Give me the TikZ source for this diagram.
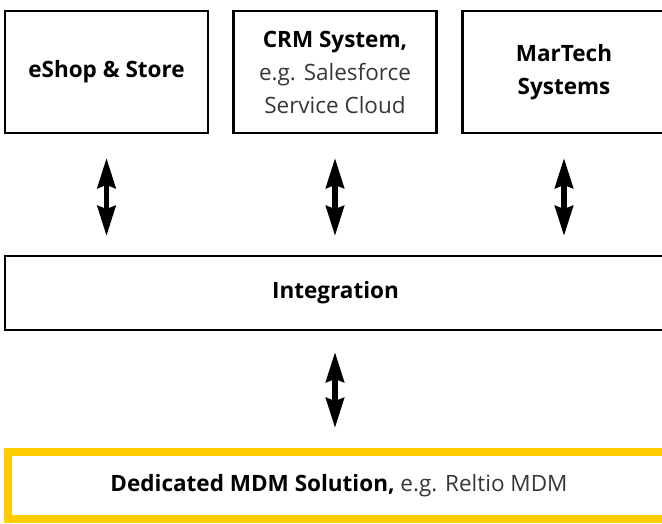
\documentclass[tikz,border=0pt]{standalone}
\usepackage{fontspec}
\setmainfont{Open Sans}
\usetikzlibrary{arrows.meta}
\definecolor{mdmyellow}{RGB}{255,204,0}
\definecolor{egtextcol}{RGB}{55,55,55}
\newcommand{\egtext}[1]{{\color{egtextcol}#1}}
\begin{document}
\begin{tikzpicture}[x=1pt,y=-1pt,
  every node/.style={font=\fontsize{22.5}{33}\selectfont},
  sysbox/.style={draw,line width=2.6pt,inner sep=0pt,outer sep=0pt,align=center,minimum width=203pt,minimum height=122pt},
  link/.style={{Stealth[length=30pt,width=18pt,inset=3pt]}-{Stealth[length=30pt,width=18pt,inset=3pt]},line width=5.5pt}]
\useasboundingbox (0,0) rectangle (662,524);
\node[sysbox] (eshop) at (106.5,72) {\textbf{eShop \& Store}};
\node[sysbox] (crm) at (335,72) {\textbf{CRM System,}\\\egtext{e.g. Salesforce}\\\egtext{Service Cloud}};
\node[sysbox] (martech) at (564,72) {\textbf{MarTech}\\\textbf{Systems}};
\node[sysbox,minimum width=661pt,minimum height=74pt] (integ) at (335.5,293) {\textbf{Integration}};
\node[sysbox,draw=mdmyellow,line width=8pt,minimum width=662pt,minimum height=67pt] (mdm) at (339,485.5) {\textbf{Dedicated MDM Solution,} \egtext{e.g. Reltio MDM}};
\foreach \n in {eshop,crm,martech}
  \draw[link,shorten <=25pt,shorten >=20pt] (\n.south) -- (\n.south |- integ.north);
\draw[link,shorten <=22pt,shorten >=24pt] (integ.south -| crm) -- (mdm.north -| crm);
\end{tikzpicture}
\end{document}
